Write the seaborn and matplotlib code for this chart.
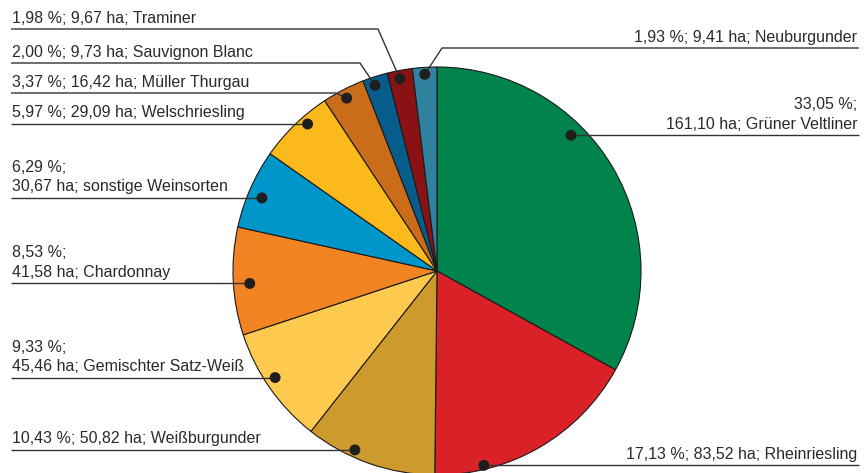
import numpy as np
import matplotlib
matplotlib.use("Agg")
import matplotlib.pyplot as plt
import seaborn as sns

# data (share in %, area in ha)
sorten = ["Grüner Veltliner", "Rheinriesling", "Weißburgunder", "Gemischter Satz-Weiß",
          "Chardonnay", "sonstige Weinsorten", "Welschriesling", "Müller Thurgau",
          "Sauvignon Blanc", "Traminer", "Neuburgunder"]
anteil = [33.05, 17.13, 10.43, 9.33, 8.53, 6.29, 5.97, 3.37, 2.00, 1.98, 1.93]
hektar = [161.10, 83.52, 50.82, 45.46, 41.58, 30.67, 29.09, 16.42, 9.73, 9.67, 9.41]
farben = ["#00844B", "#D92127", "#CD9B2D", "#FDC94F", "#F28322", "#0096C9",
          "#FCB91B", "#C96D1B", "#065D8B", "#8A1214", "#2F819E"]

# layout (pixel coords, y from top)
W, H = 865, 473
cx, cy, R = 437, 271, 204
dot_t = [0.375, 0.77, 0.64, 0.55, 0.47, 0.45, 0.63, 0.48, 0.39, 0.44, 0.49]
dot_r = [0.935, 0.98, 0.965, 0.95, 0.92, 0.93, 0.96, 0.956, 0.96, 0.96, 0.966]
seite = ["R", "R", "L", "L", "L", "L", "L", "L", "L", "L", "R"]
knick = [None, None, None, None, None, None, None, (336, 93), (360, 63), (378, 29), (442, 48)]
umbruch = [True, False, False, True, True, True, False, False, False, False, False]

TXT = "#2A2A2A"
LINE = "#333333"

sns.set_theme(style="white")
plt.rcParams["font.family"] = ["Liberation Sans", "DejaVu Sans"]

fig = plt.figure(figsize=(W / 100, H / 100), dpi=100)
ax = fig.add_axes([0, 0, 1, 1])

wedges, _ = ax.pie(anteil, colors=farben, startangle=90, counterclock=False,
                   center=(cx, H - cy), radius=R,
                   wedgeprops=dict(edgecolor="#1a1a1a", linewidth=0.8))

def fmt(v):
    return f"{v:.2f}".replace(".", ",")

dx, dy = [], []
for w, t, r in zip(wedges, dot_t, dot_r):
    ang = np.deg2rad(w.theta2 - t * (w.theta2 - w.theta1))
    dx.append(cx + r * R * np.cos(ang))
    dy.append(H - cy + r * R * np.sin(ang))

for i, name in enumerate(sorten):
    x0, y0 = dx[i], dy[i]
    if knick[i] is None:
        ly = y0
        pts = [(x0, y0)]
    else:
        kx, ky = knick[i]
        ly = H - ky
        pts = [(x0, y0), (kx, ly)]
    end_x = 859 if seite[i] == "R" else 11
    pts.append((end_x, ly))
    ax.plot([p[0] for p in pts], [p[1] for p in pts], color=LINE, lw=1.0, zorder=4,
            solid_capstyle="butt")

    teile = [f"{fmt(anteil[i])} %;", f"{fmt(hektar[i])} ha; {name}"]
    zeilen = teile if umbruch[i] else [" ".join(teile)]
    tx = 857 if seite[i] == "R" else 12
    ha = "right" if seite[i] == "R" else "left"
    for k, z in enumerate(reversed(zeilen)):
        ax.text(tx, ly + 6.5 + k * 19.5, z, ha=ha, va="baseline",
                fontsize=11.5, color=TXT)

sns.scatterplot(x=dx, y=dy, ax=ax, s=62, color="#1E1E1E", edgecolor="none", zorder=5,
                legend=False)

ax.set_xlim(0, W)
ax.set_ylim(0, H)
ax.set_aspect("equal")
ax.set_axis_off()

fig.savefig("out.png", dpi=100)
